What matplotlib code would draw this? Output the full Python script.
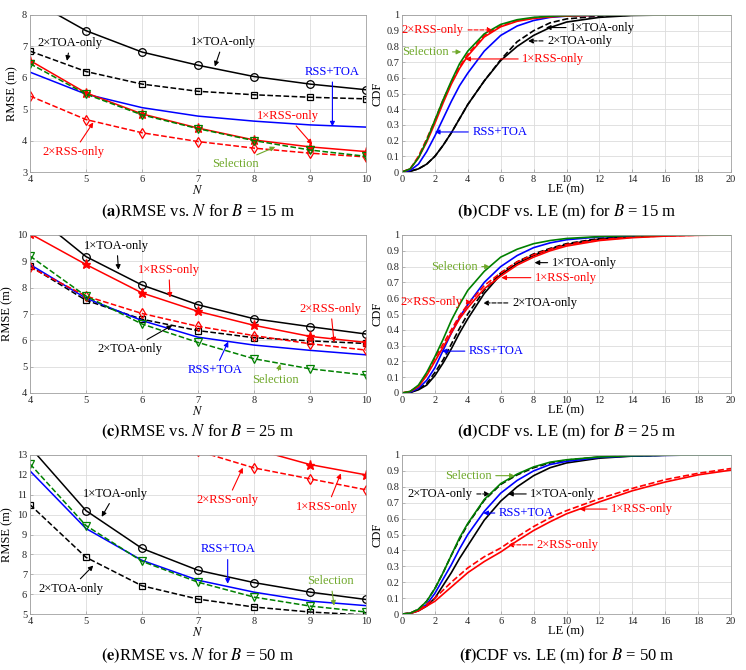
import matplotlib
matplotlib.use('Agg')
import matplotlib.pyplot as plt

plt.rcParams['font.family'] = ['Liberation Serif', 'DejaVu Serif']
plt.rcParams['mathtext.fontset'] = 'stix'

BLK = 'k'
BLUE = '#0000ff'
RED = '#ff0000'
GRN = '#008000'
SEL = '#6fa82a'

# ---------------- RMSE vs N data ----------------
N = [4, 5, 6, 7, 8, 9, 10]

# B = 15 m
a_toa1 = [8.5, 7.5, 6.82, 6.4, 6.04, 5.8, 5.62]
a_toa2 = [6.85, 6.2, 5.8, 5.57, 5.46, 5.38, 5.33]
a_hyb = [6.18, 5.48, 5.05, 4.78, 4.62, 4.5, 4.43]
a_rss1 = [6.55, 5.52, 4.85, 4.4, 4.02, 3.8, 3.65]
a_rss2 = [5.42, 4.67, 4.25, 3.97, 3.76, 3.6, 3.48]
a_sel = [6.45, 5.48, 4.82, 4.38, 4.0, 3.7, 3.5]

# B = 25 m
c_toa1 = [10.9, 9.18, 8.1, 7.35, 6.82, 6.52, 6.24]
c_toa2 = [8.82, 7.52, 6.8, 6.37, 6.1, 5.98, 5.88]
c_hyb = [8.88, 7.6, 6.75, 6.12, 5.82, 5.62, 5.45]
c_rss1 = [10.05, 8.88, 7.8, 7.1, 6.57, 6.15, 5.92]
c_rss2 = [8.78, 7.68, 7.02, 6.53, 6.18, 5.87, 5.63]
c_sel = [9.2, 7.68, 6.62, 5.92, 5.3, 4.92, 4.68]

# B = 50 m
e_toa1 = [13.4, 10.2, 8.3, 7.2, 6.58, 6.1, 5.73]
e_toa2 = [10.5, 7.85, 6.42, 5.75, 5.35, 5.1, 4.95]
e_hyb = [12.2, 9.3, 7.7, 6.7, 6.1, 5.65, 5.42]
e_rss1 = [20.0, 17.0, 15.3, 14.1, 13.3, 12.52, 12.0]
e_rss2 = [17.5, 15.5, 14.1, 13.2, 12.35, 11.8, 11.25]
e_sel = [12.55, 9.45, 7.65, 6.6, 5.85, 5.4, 5.1]

# ---------------- CDF vs LE data ----------------
LE = [0, 0.5, 1, 1.5, 2, 2.5, 3, 3.5, 4, 5, 6, 7, 8, 9, 10, 12, 14, 16, 18, 20]

# B = 15 m
b_sel = [0, 0.02, 0.09, 0.2, 0.33, 0.46, 0.58, 0.69, 0.77, 0.88, 0.94, 0.97, 0.985, 0.992, 0.996, 0.999, 1, 1, 1, 1]
b_rss1 = [0, 0.02, 0.09, 0.19, 0.31, 0.44, 0.56, 0.66, 0.74, 0.86, 0.925, 0.96, 0.978, 0.988, 0.994, 0.999, 1, 1, 1, 1]
b_rss2 = [0, 0.02, 0.1, 0.21, 0.33, 0.46, 0.57, 0.67, 0.75, 0.87, 0.93, 0.965, 0.982, 0.99, 0.995, 0.999, 1, 1, 1, 1]
b_hyb = [0, 0.01, 0.05, 0.13, 0.23, 0.34, 0.45, 0.55, 0.63, 0.77, 0.87, 0.93, 0.965, 0.985, 0.993, 0.999, 1, 1, 1, 1]
b_toa1 = [0, 0.005, 0.02, 0.05, 0.1, 0.17, 0.25, 0.34, 0.43, 0.58, 0.71, 0.8, 0.87, 0.92, 0.955, 0.985, 0.997, 1, 1, 1]
b_toa2 = [0, 0.005, 0.02, 0.05, 0.1, 0.17, 0.25, 0.34, 0.43, 0.58, 0.715, 0.83, 0.9, 0.95, 0.975, 0.993, 0.999, 1, 1, 1]

# B = 25 m
d_sel = [0, 0.01, 0.05, 0.13, 0.23, 0.34, 0.46, 0.56, 0.65, 0.77, 0.86, 0.91, 0.945, 0.965, 0.978, 0.99, 0.996, 0.999, 1, 1]
d_hyb = [0, 0.005, 0.03, 0.08, 0.16, 0.27, 0.38, 0.48, 0.56, 0.7, 0.8, 0.87, 0.92, 0.95, 0.97, 0.988, 0.995, 0.999, 1, 1]
d_rss1 = [0, 0.01, 0.04, 0.11, 0.2, 0.29, 0.38, 0.47, 0.54, 0.66, 0.74, 0.81, 0.86, 0.9, 0.93, 0.965, 0.983, 0.993, 0.998, 1]
d_rss2 = [0, 0.01, 0.045, 0.12, 0.22, 0.31, 0.4, 0.49, 0.56, 0.68, 0.76, 0.83, 0.875, 0.91, 0.94, 0.97, 0.986, 0.995, 0.999, 1]
d_toa1 = [0, 0.003, 0.02, 0.05, 0.11, 0.19, 0.28, 0.38, 0.47, 0.63, 0.75, 0.82, 0.87, 0.91, 0.94, 0.975, 0.99, 0.997, 1, 1]
d_toa2 = [0, 0.004, 0.025, 0.06, 0.13, 0.21, 0.31, 0.41, 0.5, 0.65, 0.76, 0.83, 0.88, 0.915, 0.945, 0.978, 0.992, 0.998, 1, 1]

# B = 50 m
f_sel = [0, 0.005, 0.03, 0.08, 0.16, 0.26, 0.37, 0.48, 0.57, 0.72, 0.82, 0.88, 0.925, 0.955, 0.97, 0.988, 0.995, 0.999, 1, 1]
f_toa2 = [0, 0.005, 0.03, 0.08, 0.16, 0.26, 0.37, 0.47, 0.565, 0.715, 0.815, 0.875, 0.92, 0.95, 0.968, 0.987, 0.995, 0.999, 1, 1]
f_hyb = [0, 0.004, 0.025, 0.06, 0.13, 0.22, 0.31, 0.41, 0.5, 0.645, 0.76, 0.84, 0.9, 0.94, 0.96, 0.985, 0.994, 0.998, 1, 1]
f_toa1 = [0, 0.003, 0.02, 0.05, 0.1, 0.18, 0.26, 0.35, 0.43, 0.59, 0.71, 0.8, 0.87, 0.92, 0.95, 0.98, 0.993, 0.998, 1, 1]
f_rss1 = [0, 0.004, 0.02, 0.05, 0.08, 0.125, 0.17, 0.215, 0.26, 0.33, 0.39, 0.46, 0.525, 0.58, 0.63, 0.705, 0.775, 0.83, 0.875, 0.905]
f_rss2 = [0, 0.005, 0.025, 0.06, 0.1, 0.15, 0.2, 0.245, 0.29, 0.36, 0.415, 0.485, 0.55, 0.605, 0.65, 0.725, 0.79, 0.845, 0.885, 0.915]

# annotations: text, text centre, arrow head, colour, linestyle
a_notes = [
    ('1\u00d7TOA-only', (7.45, 7.14), (7.3, 6.36), BLK, '-'),
    ('2\u00d7TOA-only', (4.72, 7.11), (4.66, 6.54), BLK, '-'),
    ('RSS+TOA', (9.4, 6.19), (9.4, 4.45), BLUE, '-'),
    ('1\u00d7RSS-only', (8.6, 4.78), (9.04, 3.88), RED, '-'),
    ('2\u00d7RSS-only', (4.78, 3.64), (5.13, 4.58), RED, '-'),
    ('Selection', (7.66, 3.25), (8.38, 3.8), SEL, '-'),
]
c_notes = [
    ('1\u00d7TOA-only', (5.55, 9.6), (5.58, 8.68), BLK, '-'),
    ('1\u00d7RSS-only', (6.48, 8.68), (6.5, 7.62), RED, '-'),
    ('2\u00d7RSS-only', (9.37, 7.2), (9.43, 5.92), RED, '-'),
    ('2\u00d7TOA-only', (5.79, 5.67), (6.54, 6.57), BLK, '-'),
    ('RSS+TOA', (7.3, 4.86), (7.54, 5.95), BLUE, '-'),
    ('Selection', (8.38, 4.48), (8.47, 5.1), SEL, '-'),
]
e_notes = [
    ('1\u00d7TOA-only', (5.52, 11.06), (5.28, 9.89), BLK, '-'),
    ('2\u00d7RSS-only', (7.53, 10.73), (7.8, 12.36), RED, '-'),
    ('1\u00d7RSS-only', (9.31, 10.39), (9.55, 12.07), RED, '-'),
    ('RSS+TOA', (7.53, 8.25), (7.53, 6.52), BLUE, '-'),
    ('2\u00d7TOA-only', (4.73, 6.28), (5.13, 7.44), BLK, '-'),
    ('Selection', (9.37, 6.66), (9.43, 5.42), SEL, '-'),
]
b_notes = [
    ('2\u00d7RSS-only', (1.88, 0.905), (5.5, 0.905), RED, '--'),
    ('Selection', (1.4, 0.765), (3.6, 0.765), SEL, '-'),
    ('1\u00d7RSS-only', (9.2, 0.72), (3.85, 0.72), RED, '-'),
    ('1\u00d7TOA-only', (12.2, 0.92), (8.75, 0.92), BLK, '-'),
    ('2\u00d7TOA-only', (10.8, 0.835), (7.66, 0.835), BLK, '--'),
    ('RSS+TOA', (5.95, 0.255), (2.0, 0.255), BLUE, '-'),
]
d_notes = [
    ('Selection', (3.18, 0.8), (5.34, 0.8), SEL, '-'),
    ('1\u00d7TOA-only', (11.08, 0.825), (8.06, 0.825), BLK, '-'),
    ('1\u00d7RSS-only', (9.97, 0.73), (6.04, 0.73), RED, '-'),
    ('2\u00d7RSS-only', (1.8, 0.575), (4.23, 0.575), RED, '--'),
    ('2\u00d7TOA-only', (8.66, 0.57), (4.93, 0.57), BLK, '--'),
    ('RSS+TOA', (5.74, 0.265), (2.42, 0.265), BLUE, '-'),
]
f_notes = [
    ('Selection', (4.03, 0.87), (6.85, 0.87), SEL, '-'),
    ('2\u00d7TOA-only', (2.32, 0.755), (5.34, 0.755), BLK, '--'),
    ('1\u00d7TOA-only', (9.78, 0.755), (6.45, 0.755), BLK, '-'),
    ('RSS+TOA', (7.56, 0.635), (4.94, 0.635), BLUE, '-'),
    ('1\u00d7RSS-only', (14.6, 0.66), (10.79, 0.66), RED, '-'),
    ('2\u00d7RSS-only', (10.08, 0.435), (6.45, 0.435), RED, '--'),
]

fig = plt.figure(figsize=(7.46, 6.70), dpi=100)

LX, LW = 30 / 746, 336 / 746
RX, RW = 402 / 746, 329 / 746
rows = [(15, 172), (235, 393), (455, 614)]


def box(x0, w, r):
    top, bot = rows[r]
    return [x0, 1 - bot / 670, w, (bot - top) / 670]


def style(ax):
    ax.grid(True, color='#dcdcdc', lw=0.6)
    ax.set_axisbelow(True)
    for s in ax.spines.values():
        s.set_color('#a0a0a0')
        s.set_linewidth(0.6)
    ax.tick_params(direction='in', length=2.5, width=0.5, colors='#a0a0a0',
                   labelcolor='#262626', labelsize=7.5, pad=2)


def notes(ax, items):
    for txt, txy, head, col, ls in items:
        ax.annotate(txt, xy=head, xytext=txy, ha='center', va='center',
                    color=col, fontsize=9,
                    arrowprops=dict(arrowstyle='-|>', color=col, lw=0.8, ls=ls,
                                    mutation_scale=7, shrinkA=1, shrinkB=0))


def rmse_panel(r, ylim, data, items, cap):
    ax = fig.add_axes(box(LX, LW, r))
    toa1, toa2, hyb, rss1, rss2, sel = data
    ax.plot(N, toa1, '-', color=BLK, lw=1.1, marker='o', ms=5.5, mfc='none', mew=0.9)
    ax.plot(N, toa2, '--', color=BLK, lw=1.1, marker='s', ms=4.5, mfc='none', mew=0.9)
    ax.plot(N, hyb, '-', color=BLUE, lw=1.1)
    ax.plot(N, rss1, '-', color=RED, lw=1.1, marker='*', ms=6.5)
    ax.plot(N, rss2, '--', color=RED, lw=1.1, marker='d', ms=5.5, mfc='none', mew=0.9)
    ax.plot(N, sel, '--', color=GRN, lw=1.1, marker='v', ms=5.5, mfc='none', mew=0.9)
    ax.set_xlim(4, 10)
    ax.set_ylim(*ylim)
    ax.set_xticks(N)
    ax.set_yticks(range(ylim[0], ylim[1] + 1))
    style(ax)
    ax.set_xlabel('$N$', fontsize=9, labelpad=0)
    ax.set_ylabel('RMSE (m)', fontsize=9, labelpad=3)
    notes(ax, items)
    fig.text(LX + LW / 2, cap, r'$\mathbf{(' + 'ace'[r] + r')}$RMSE vs. $N$ for $B$ = '
             + ['15', '25', '50'][r] + ' m', ha='center', va='center', fontsize=12)
    return ax


def cdf_panel(r, data, items, cap):
    ax = fig.add_axes(box(RX, RW, r))
    sel, rss2, rss1, hyb, toa1, toa2 = data
    ax.plot(LE, toa1, '-', color=BLK, lw=1.2)
    ax.plot(LE, toa2, '--', color=BLK, lw=1.2)
    ax.plot(LE, hyb, '-', color=BLUE, lw=1.2)
    ax.plot(LE, rss1, '-', color=RED, lw=1.2)
    ax.plot(LE, rss2, '--', color=RED, lw=1.2)
    ax.plot(LE, sel, '-', color=GRN, lw=1.2)
    ax.set_xlim(0, 20)
    ax.set_ylim(0, 1)
    ax.set_xticks(range(0, 21, 2))
    ax.set_yticks([i / 10 for i in range(11)])
    ax.set_yticklabels(['0'] + ['%.1f' % (i / 10) for i in range(1, 10)] + ['1'])
    style(ax)
    ax.set_xlabel('LE (m)', fontsize=9, labelpad=0)
    ax.set_ylabel('CDF', fontsize=9, labelpad=2)
    notes(ax, items)
    fig.text(RX + RW / 2, cap, r'$\mathbf{(' + 'bdf'[r] + r')}$CDF vs. LE (m) for $B$ = '
             + ['15', '25', '50'][r] + ' m', ha='center', va='center', fontsize=12)
    return ax


caps = [1 - 212 / 670, 1 - 432 / 670, 1 - 656 / 670]

rmse_panel(0, (3, 8), (a_toa1, a_toa2, a_hyb, a_rss1, a_rss2, a_sel), a_notes, caps[0])
rmse_panel(1, (4, 10), (c_toa1, c_toa2, c_hyb, c_rss1, c_rss2, c_sel), c_notes, caps[1])
rmse_panel(2, (5, 13), (e_toa1, e_toa2, e_hyb, e_rss1, e_rss2, e_sel), e_notes, caps[2])

cdf_panel(0, (b_sel, b_rss2, b_rss1, b_hyb, b_toa1, b_toa2), b_notes, caps[0])
cdf_panel(1, (d_sel, d_rss2, d_rss1, d_hyb, d_toa1, d_toa2), d_notes, caps[1])
cdf_panel(2, (f_sel, f_rss2, f_rss1, f_hyb, f_toa1, f_toa2), f_notes, caps[2])

fig.savefig('out.png', dpi=100)
